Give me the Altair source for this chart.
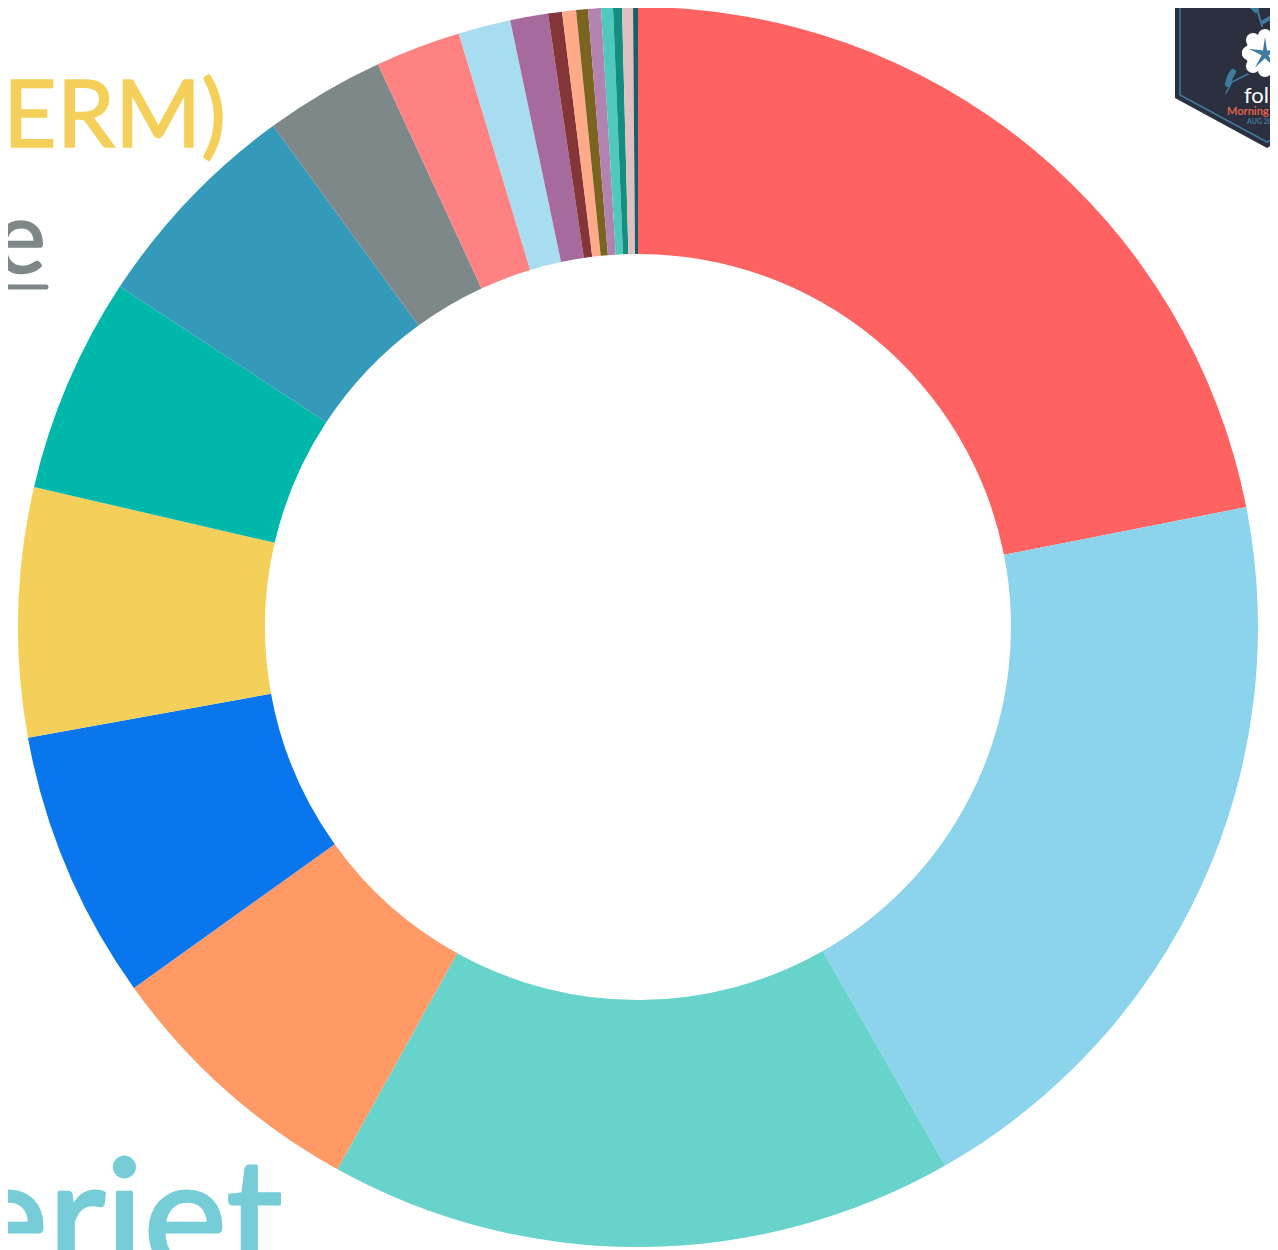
import altair as alt
import pandas as pd

# Ring shares (degrees of the circle), clockwise from the top
share = [78.85, 71.45, 58.7, 25.4, 25.3, 23.35, 20.25, 20.65, 11.25, 8.0, 4.9,
         3.55, 1.31, 1.30, 1.11, 1.21, 1.11, 0.83, 1.02, 0.46]
slice_colors = ["#FF6361", "#8CD3EC", "#67D3CA", "#FF9966", "#0A76ED", "#F4D05A",
                "#00B8A9", "#3599BA", "#7F8888", "#FF8282", "#A8DCF0", "#A66A9C",
                "#843537", "#FFAA88", "#7A6420", "#B282B0", "#4FC9BC", "#158E82",
                "#E0BFC0", "#1B5E6A"]
names = [f"s{i:02d}" for i in range(len(share))]

W, H = 1262, 1242
xs = alt.Scale(domain=[8, 1270], nice=False, zero=False)
ys = alt.Scale(domain=[1250, 8], nice=False, zero=False)


def X(f="x:Q"):
    return alt.X(f, scale=xs, axis=None)


def Y(f="y:Q"):
    return alt.Y(f, scale=ys, axis=None)


def label(text, x, y, size, color, font="Lato", align="left", weight="normal", heavy=0):
    opts = dict(font=font, fontSize=size, color=color, align=align, baseline="alphabetic",
                fontWeight=weight, clip=False)
    if heavy:
        opts.update(stroke=color, strokeWidth=heavy, strokeJoin="round")
    return alt.Chart(pd.DataFrame({"x": [x], "y": [y], "t": [text]})).mark_text(**opts).encode(
        x=X(), y=Y(), text="t:N")


def stroke(px, py, color, width):
    d = pd.DataFrame({"x": px, "y": py, "i": range(len(px))})
    return alt.Chart(d).mark_line(color=color, strokeWidth=width, strokeCap="round",
                                  strokeJoin="round", clip=False).encode(
        x=X(), y=Y(), order="i:Q")


def dots(px, py, r, color):
    d = pd.DataFrame({"x": px, "y": py})
    return alt.Chart(d).mark_circle(color=color, opacity=1, size=3.14159 * r * r).encode(x=X(), y=Y())


ring_df = pd.DataFrame({"name": names, "share": share, "i": range(len(share))})
ring = alt.Chart(ring_df).mark_arc(innerRadius=373, outerRadius=620).encode(
    theta=alt.Theta("share:Q", stack=True, scale=alt.Scale(domain=[0, 360], range=[0, 6.28318530718])),
    color=alt.Color("name:N", scale=alt.Scale(domain=names, range=slice_colors), legend=None),
    order=alt.Order("i:Q"),
    x=alt.value(630), y=alt.value(619),
)

# Badge at the top right
badge_x = [1175, 1267, 1278]
badge_low = [98, 148, 142]
badge_top = [0, 0, 0]
badge = alt.Chart(pd.DataFrame({"x": badge_x, "y": badge_low, "y2": badge_top})).mark_area(
    color="#2B2F3E", clip=False).encode(x=X(), y=Y(), y2="y2:Q")
badge_line = stroke([1180, 1180, 1267, 1278], [0, 95, 142, 136], "#3F7AA0", 1.5)
petal_x = [1265, 1249, 1253, 1265, 1277, 1249, 1253, 1265, 1277]
petal_y = [53, 53, 40, 36, 40, 53, 66, 70, 66]
flower = dots(petal_x[:1], petal_y[:1], 22, "#FFFFFF")
petals = dots(petal_x[1:], petal_y[1:], 8, "#FFFFFF")
top_flower = dots([1284], [3], 15, "#FFFFFF")
star_path = ("M0,-1 L0.12,-0.2 L0.95,-0.31 L0.2,0.08 L0.59,0.81 L0,0.25 L-0.59,0.81 "
             "L-0.2,0.08 L-0.95,-0.31 L-0.12,-0.2 Z")
star = alt.Chart(pd.DataFrame({"x": [1265], "y": [54]})).mark_point(
    shape=star_path, filled=True, color="#3F7AA0", opacity=1, size=1156).encode(x=X(), y=Y())
stem1 = stroke([1226, 1232, 1248], [93, 82, 74], "#3F7AA0", 1.5)
leaf1 = stroke([1228, 1230, 1233], [84, 77, 72], "#3F7AA0", 6)
stem2 = stroke([1252, 1258, 1262], [0, 12, 26], "#3F7AA0", 2)
leaf2 = stroke([1245, 1252, 1256], [0, 6, 10], "#3F7AA0", 6)
leaf3 = stroke([1263, 1270], [22, 18], "#3F7AA0", 4)

underline = stroke([0, 46], [287, 287], "#7F8888", 5)

chart = alt.layer(
    label("ERM)", 3, 147, 93, "#F4D05A", heavy=1.5),
    label("e", 46, 273, 100, "#7F8888", align="right", heavy=1.5),
    underline,
    label("eriet", 283, 1272, 158, "#76CDD8", align="right", heavy=3),
    ring,
    badge, badge_line, stem1, leaf1, stem2, leaf2, leaf3,
    flower, petals, top_flower, star,
    label("folio", 1244, 103, 22, "#FFFFFF"),
    label("Morning Glory", 1227, 115, 11, "#E0604A", weight="bold"),
    label("AUG 2021", 1247, 124, 7, "#3F7AA0", weight="bold"),
).resolve_scale(color="independent").properties(
    width=W, height=H, padding=0, autosize=alt.AutoSizeParams(type="none"),
    background="#FFFFFF",
).configure_view(stroke=None)

chart.save("out.html", embed_options={"renderer": "svg", "actions": False})
